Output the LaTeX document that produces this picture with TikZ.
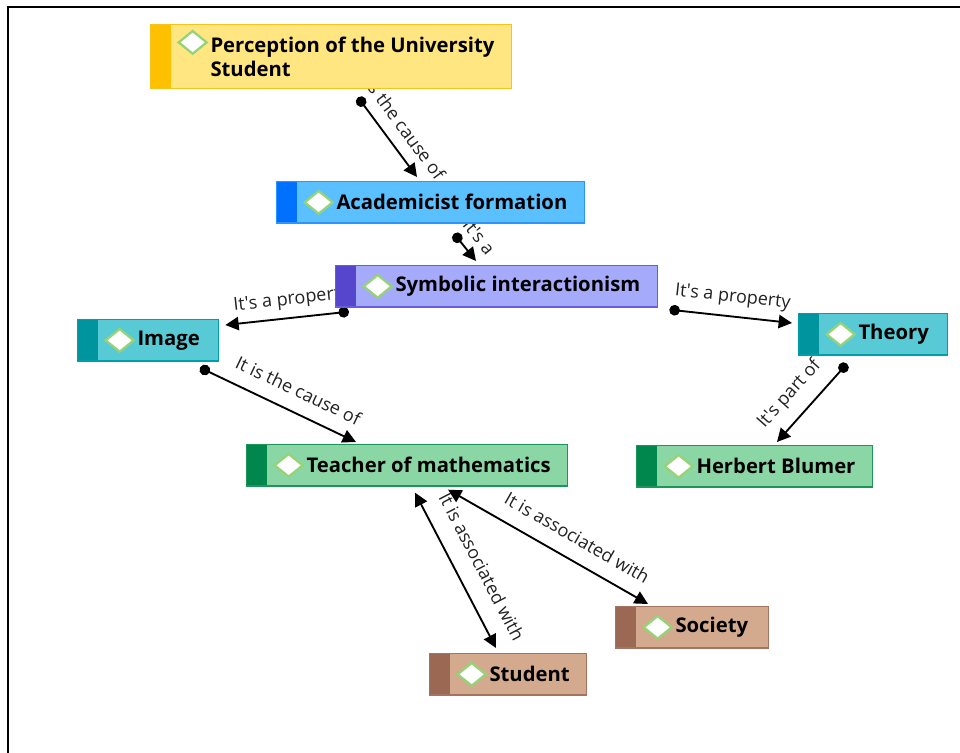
\documentclass[tikz,border=0pt]{standalone}
\usepackage{fontspec}
\setmainfont{Open Sans}
\usetikzlibrary{arrows.meta,backgrounds,calc}

\definecolor{percLine}{HTML}{F6C21C}
\definecolor{percFill}{HTML}{FFE680}
\definecolor{percStrip}{HTML}{FFC000}
\definecolor{acadLine}{HTML}{2A95FF}
\definecolor{acadFill}{HTML}{5AC0FF}
\definecolor{acadStrip}{HTML}{0070FF}
\definecolor{symbLine}{HTML}{6A5CDE}
\definecolor{symbFill}{HTML}{A5AAFA}
\definecolor{symbStrip}{HTML}{5546CD}
\definecolor{tealLine}{HTML}{00A0AA}
\definecolor{tealFill}{HTML}{58CAD6}
\definecolor{tealStrip}{HTML}{00949E}
\definecolor{greenLine}{HTML}{1E965A}
\definecolor{greenFill}{HTML}{8BD6A5}
\definecolor{greenStrip}{HTML}{00874E}
\definecolor{brownLine}{HTML}{A5735F}
\definecolor{brownFill}{HTML}{D4AA8E}
\definecolor{brownStrip}{HTML}{9B6854}
\definecolor{iconGreen}{HTML}{96D278}
\definecolor{linkGray}{HTML}{222222}

\newcommand\iconlift{0pt}

\tikzset{every picture/.style={line width=0.75pt}}
\tikzset{
  iconlift/.code={\def\iconlift{#1}},
  concept/.style n args={3}{rectangle, draw=#1, fill=#2, line width=1pt, anchor=north west,
    inner sep=0pt, minimum height=31pt,
    path picture={
      \fill[#3] (path picture bounding box.north west) rectangle ([xshift=15pt]path picture bounding box.south west);
      \draw[icon] ([xshift=21pt,yshift=\iconlift]path picture bounding box.west) -- ++(10.5pt,8.5pt) -- ++(10.5pt,-8.5pt) -- ++(-10.5pt,-8.5pt) -- cycle;
    }},
  icon/.style={draw=iconGreen, fill=white, line width=1.7pt},
  caption/.style={anchor=west, xshift=45pt, inner sep=0pt, align=left, font=\fontsize{15.2}{18}\selectfont\bfseries},
  link/.style={draw=black, line width=1.4pt, {Circle[length=8pt]}-{Triangle[length=10pt,width=10pt]}},
  biLink/.style={draw=black, line width=1.4pt, {Triangle[length=10pt,width=10pt]}-{Triangle[length=10pt,width=10pt]}},
  linkText/.style={sloped, above=#1, inner sep=2pt, text=linkGray, font=\fontsize{13.5}{15}\selectfont},
  linkText/.default=6pt
}

\begin{document}
\begin{tikzpicture}[x=0.75pt,y=0.75pt]
	\useasboundingbox (0,0) rectangle (960,-753);

	%Frame
	\draw[line width=1.2pt] (8,-753) -- (8,-7) -- (960,-7);

	% Concept: Perception
	\node[concept={percLine}{percFill}{percStrip}, minimum width=270.75pt, minimum height=48pt, iconlift=10.7pt,
	  label={[caption]west:Perception of the University\\Student}] (perc) at (150,-24) {};
	% Concept: Academicist
	\node[concept={acadLine}{acadFill}{acadStrip}, minimum width=231pt,
	  label={[caption]west:Academicist formation}] (acad) at (276,-181) {};
	% Concept: Symbolic
	\node[concept={symbLine}{symbFill}{symbStrip}, minimum width=241.5pt,
	  label={[caption]west:Symbolic interactionism}] (symb) at (335,-265) {};
	% Concept: Image
	\node[concept={tealLine}{tealFill}{tealStrip}, minimum width=105.75pt,
	  label={[caption]west:Image}] (image) at (77,-319) {};
	% Concept: Theory
	\node[concept={tealLine}{tealFill}{tealStrip}, minimum width=111.75pt,
	  label={[caption]west:Theory}] (theory) at (798,-313) {};
	% Concept: Teacher
	\node[concept={greenLine}{greenFill}{greenStrip}, minimum width=240.75pt,
	  label={[caption]west:Teacher of mathematics}] (teach) at (246,-444) {};
	% Concept: Blumer
	\node[concept={greenLine}{greenFill}{greenStrip}, minimum width=177pt,
	  label={[caption]west:Herbert Blumer}] (herb) at (636,-445) {};
	% Concept: Society
	\node[concept={brownLine}{brownFill}{brownStrip}, minimum width=114.75pt,
	  label={[caption]west:Society}] (soc) at (615,-606) {};
	% Concept: Student
	\node[concept={brownLine}{brownFill}{brownStrip}, minimum width=117.75pt,
	  label={[caption]west:Student}] (stud) at (429,-653) {};

	\begin{pgfonlayer}{background}
	%Link perc -> acad
	\draw[link] ($(perc.south west)+(208,-8)$) -- node[linkText=6.5pt, pos=0.49] {It\textquotesingle s the cause of} ($(acad.north west)+(141,4)$);
	%Link acad -> symb
	\draw[link] ($(acad.south west)+(178,-10)$) -- node[linkText=5.5pt, pos=0.52] {It\textquotesingle s a} ($(symb.north west)+(141,4)$);
	%Link symb -> image
	\draw[link] ($(symb.south west)+(14,-4)$) -- node[linkText=4pt, pos=0.45] {It\textquotesingle s a property} ($(image.north east)+(6,-6)$);
	%Link symb -> theory
	\draw[link] ($(symb.south east)+(11,-2)$) -- node[linkText=5pt, pos=0.5] {It\textquotesingle s a property} ($(theory.north west)+(-6,-10)$);
	%Link image -> teach
	\draw[link] ($(image.south west)+(123,-6)$) -- node[linkText=8.5pt, pos=0.57] {It is the cause of} ($(teach.north west)+(110,2)$);
	%Link theory -> herb
	\draw[link] ($(theory.south west)+(49,-8)$) -- node[linkText=7.5pt, pos=0.58] {It\textquotesingle s part of} ($(herb.north west)+(141,3)$);
	%Link teach <-> stud
	\draw[biLink] ($(teach.south west)+(169,-6)$) -- node[linkText=11pt, pos=0.55] {It is associated with} ($(stud.north west)+(67,5)$);
	%Link teach <-> soc
	\draw[biLink] ($(teach.south west)+(202,-3)$) -- node[linkText=9pt, pos=0.59] {It is associated with} ($(soc.north west)+(33,2)$);
	\end{pgfonlayer}

\end{tikzpicture}
\end{document}
